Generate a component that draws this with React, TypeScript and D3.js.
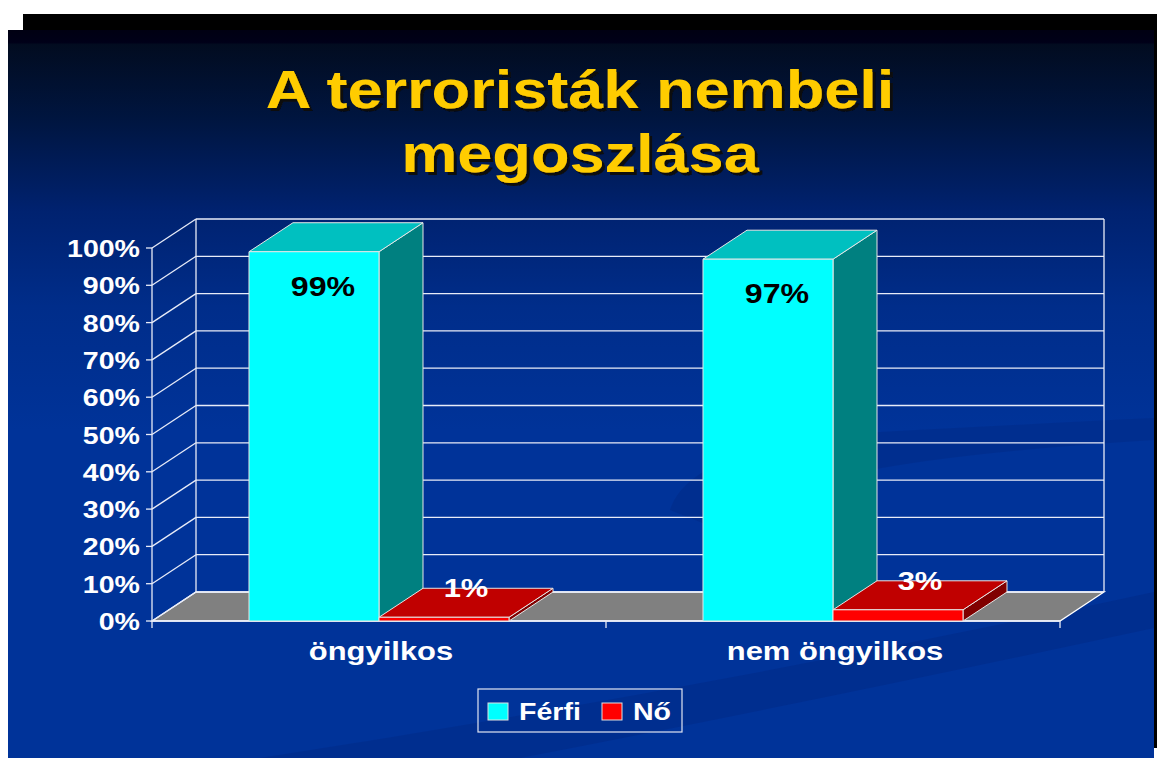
import { useRef, useEffect } from "react";
import * as d3 from "d3";

const categories: string[] = ["öngyilkos", "nem öngyilkos"];
const seriesNames: string[] = ["Férfi", "Nő"];
const ferfiValues: number[] = [99, 97];
const noValues: number[] = [1, 3];
const tickValues: number[] = [0, 10, 20, 30, 40, 50, 60, 70, 80, 90, 100];
const titleLines: string[] = ["A terroristák nembeli", "megoszlása"];

const W = 1157;
const H = 758;
const FONT = "Arial, 'Liberation Sans', sans-serif";
const SX = 1.19; // the slide picture is stretched sideways

const App = () => {
  const svgRef = useRef<SVGSVGElement | null>(null);

  useEffect(() => {
    if (!svgRef.current) return;
    const svg = d3.select(svgRef.current);
    svg.selectAll("*").remove();

    //  Background slide
    const defs = svg.append("defs");
    const grad = defs
      .append("linearGradient")
      .attr("id", "bg")
      .attr("x1", 0)
      .attr("y1", 0)
      .attr("x2", 0)
      .attr("y2", 1);
    [
      [0, "#000012"],
      [0.017, "#000018"],
      [0.02, "#020c20"],
      [0.12, "#00153f"],
      [0.25, "#002270"],
      [0.38, "#002d8a"],
      [0.55, "#003399"],
      [1, "#003399"],
    ].forEach(([o, c]) => grad.append("stop").attr("offset", o as number).attr("stop-color", c as string));
    defs
      .append("clipPath")
      .attr("id", "slide")
      .append("rect")
      .attr("x", 8)
      .attr("y", 30)
      .attr("width", 1146)
      .attr("height", 728);
    defs
      .append("filter")
      .attr("id", "shadow")
      .attr("x", "-5%")
      .attr("y", "-20%")
      .attr("width", "110%")
      .attr("height", "140%")
      .append("feDropShadow")
      .attr("dx", 3)
      .attr("dy", 3)
      .attr("stdDeviation", 0.4)
      .attr("flood-color", "#0a0a0a")
      .attr("flood-opacity", 1);

    svg.append("rect").attr("width", W).attr("height", H).attr("fill", "#ffffff");
    svg.append("rect").attr("x", 23).attr("y", 14).attr("width", 1134).attr("height", 734).attr("fill", "#000000");
    svg.append("rect").attr("x", 8).attr("y", 30).attr("width", 1146).attr("height", 728).attr("fill", "url(#bg)");

    const deco = svg.append("g").attr("clip-path", "url(#slide)").attr("fill", "#002d8c").attr("opacity", 0.75);
    deco.append("path").attr("d", "M 260 758 Q 700 690 1154 592 L 1154 628 Q 820 700 520 758 Z");
    deco
      .append("path")
      .attr("d", "M 670 510 Q 690 445 880 432 Q 1030 424 1154 418 L 1154 440 Q 960 452 860 472 Q 765 492 745 540 Z");

    //  Title
    const txt = (g: any, x: number, y: number, s: string) =>
      g.append("text").attr("transform", `translate(${x},${y}) scale(${SX},1)`).text(s);

    const title = svg
      .append("g")
      .attr("font-family", FONT)
      .attr("font-weight", "bold")
      .attr("font-size", 53)
      .attr("text-anchor", "middle")
      .attr("fill", "#ffcc00")
      .attr("filter", "url(#shadow)");
    titleLines.forEach((l, i) => {
      txt(title, 580, 108 + i * 64, l);
    });

    //  Scales
    const x = d3.scaleBand<string>().domain(categories).range([152, 1060]);
    const xs = d3
      .scaleBand<string>()
      .domain(seriesNames)
      .range([0, x.bandwidth()])
      .paddingOuter(0.746);
    const y = d3.scaleLinear().domain([0, 100]).range([621, 248]);
    const dx = 44;
    const dy = -29;
    const x0 = x.range()[0];
    const x1 = x.range()[1];
    const y0 = y(0);

    //  Walls and floor
    const chart = svg.append("g");
    chart
      .append("polygon")
      .attr("points", [[x0, y0], [x1, y0], [x1 + dx, y0 + dy], [x0 + dx, y0 + dy]].join(" "))
      .attr("fill", "#808080")
      .attr("stroke", "#ffffff")
      .attr("stroke-width", 1.3);

    const grid = chart.append("g").attr("stroke", "#e8ecf8").attr("stroke-width", 1.3).attr("fill", "none");
    tickValues.forEach((t) => {
      grid
        .append("line")
        .attr("x1", x0)
        .attr("y1", y(t))
        .attr("x2", x0 + dx)
        .attr("y2", y(t) + dy);
      grid
        .append("line")
        .attr("x1", x0 + dx)
        .attr("y1", y(t) + dy)
        .attr("x2", x1 + dx)
        .attr("y2", y(t) + dy);
      grid
        .append("line")
        .attr("x1", x0 - 6)
        .attr("y1", y(t))
        .attr("x2", x0)
        .attr("y2", y(t));
    });
    grid
      .append("line")
      .attr("x1", x0 + dx)
      .attr("y1", y(100) + dy)
      .attr("x2", x0 + dx)
      .attr("y2", y0 + dy);
    grid
      .append("line")
      .attr("x1", x1 + dx)
      .attr("y1", y(100) + dy)
      .attr("x2", x1 + dx)
      .attr("y2", y0 + dy);
    grid.append("line").attr("x1", x0).attr("y1", y(100)).attr("x2", x0).attr("y2", y0);
    grid.append("line").attr("x1", x0).attr("y1", y0).attr("x2", x1).attr("y2", y0);
    [...categories.map((c) => x(c) as number), x1].forEach((t) => {
      grid.append("line").attr("x1", t).attr("y1", y0).attr("x2", t).attr("y2", y0 + 7);
    });

    //  Bars
    const colors = [
      { front: "#00ffff", top: "#00c0c0", side: "#008080" },
      { front: "#ff0000", top: "#c00000", side: "#800000" },
    ];
    const bars = chart.append("g").attr("stroke", "#e6e6e6").attr("stroke-width", 1).attr("stroke-linejoin", "round");
    const labels = chart
      .append("g")
      .attr("font-family", FONT)
      .attr("font-weight", "bold")
      .attr("text-anchor", "middle");

    categories.forEach((cat, ci) => {
      [ferfiValues[ci], noValues[ci]].forEach((v, si) => {
        const bx = (x(cat) as number) + (xs(seriesNames[si]) as number);
        const bw = xs.bandwidth();
        const yt = y(v);
        const c = colors[si];
        bars
          .append("polygon")
          .attr("points", [[bx + bw, yt], [bx + bw + dx, yt + dy], [bx + bw + dx, y0 + dy], [bx + bw, y0]].join(" "))
          .attr("fill", c.side);
        bars
          .append("polygon")
          .attr("points", [[bx, yt], [bx + bw, yt], [bx + bw + dx, yt + dy], [bx + dx, yt + dy]].join(" "))
          .attr("fill", c.top);
        bars
          .append("rect")
          .attr("x", bx)
          .attr("y", yt)
          .attr("width", bw)
          .attr("height", y0 - yt)
          .attr("fill", c.front);

        if (si === 0) {
          txt(labels, bx + bw / 2 + 9, yt + 44, `${v}%`).attr("font-size", 27).attr("fill", "#000000");
        } else {
          txt(labels, bx + bw / 2 + dx / 2, yt + dy + 9, `${v}%`).attr("font-size", 26).attr("fill", "#ffffff");
        }
      });
    });

    //  Axis labels
    const axisText = svg
      .append("g")
      .attr("font-family", FONT)
      .attr("font-weight", "bold")
      .attr("fill", "#ffffff");
    tickValues.forEach((t) => {
      txt(axisText, 140, y(t) + 9, `${t}%`).attr("font-size", 24).attr("text-anchor", "end");
    });
    categories.forEach((cat) => {
      txt(axisText, (x(cat) as number) + x.bandwidth() / 2 + 2, 660, cat)
        .attr("font-size", 26)
        .attr("text-anchor", "middle");
    });

    //  Legend
    const legend = svg.append("g");
    legend
      .append("rect")
      .attr("x", 478)
      .attr("y", 689)
      .attr("width", 204)
      .attr("height", 43)
      .attr("fill", "none")
      .attr("stroke", "#dfe4f2")
      .attr("stroke-width", 1.2);
    const legX = [488, 602];
    seriesNames.forEach((s, i) => {
      legend
        .append("rect")
        .attr("x", legX[i])
        .attr("y", 703)
        .attr("width", 20)
        .attr("height", 17)
        .attr("fill", colors[i].front)
        .attr("stroke", "#e0e0e0")
        .attr("stroke-width", 1);
      txt(legend, legX[i] + 31, 720, s)
        .attr("font-family", FONT)
        .attr("font-weight", "bold")
        .attr("font-size", 24)
        .attr("fill", "#ffffff");
    });
  }, []);

  return (
    <svg
      ref={svgRef}
      width={W}
      height={H}
      style={{ position: "absolute", left: 0, top: 0, display: "block" }}
    />
  );
};

export default App;
